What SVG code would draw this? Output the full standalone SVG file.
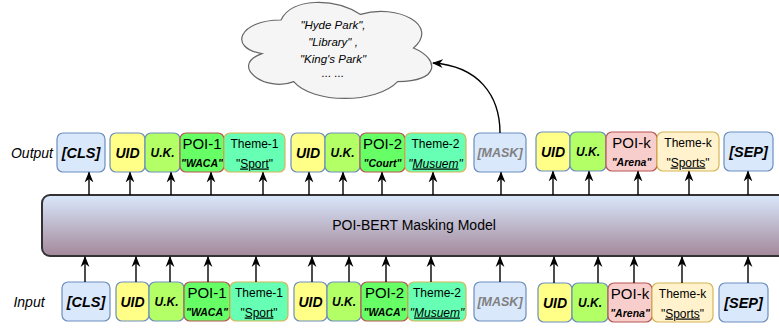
<svg xmlns="http://www.w3.org/2000/svg" width="779" height="331" viewBox="0 0 779 331">
<defs>
<linearGradient id="mg" x1="0" y1="0" x2="0" y2="1">
<stop offset="0" stop-color="#dae8fc"/>
<stop offset="1" stop-color="#a3889a"/>
</linearGradient>
<marker id="arr" viewBox="0 0 10 10" refX="9" refY="5" markerWidth="11" markerHeight="11" orient="auto" markerUnits="userSpaceOnUse">
<path d="M0,1 L10,5 L0,9 L3,5 z" fill="#000"/>
</marker>
<style>
text{font-family:"Liberation Sans",Arial,sans-serif;text-anchor:middle;fill:#000}
.b{fill:#dae8fc;stroke:#6c8ebf;stroke-width:1.2}
.uid{fill:#ffff88;stroke:#6c8ebf;stroke-width:1.2}
.uk{fill:#b3ff66;stroke:#6c8ebf;stroke-width:1.2}
.poi{fill:#66ff66;stroke:#b85450;stroke-width:1.2}
.poik{fill:#f8cecc;stroke:#b85450;stroke-width:1.2}
.th{fill:#66ffb3;stroke:#d6b656;stroke-width:1.2}
.thk{fill:#fff2cc;stroke:#d6b656;stroke-width:1.2}
.bi{font-weight:bold;font-style:italic}
.t14{font-size:14.5px}
.t13{font-size:14px}
.t11{font-size:12px}
.t10{font-size:10.5px}
.tp{font-size:15px}
.t12{font-size:12.5px}
.th1{font-size:12px}
.u{text-decoration:underline}
.gray{fill:#808080}
.lbl{font-style:italic;font-size:14px}
.c{stroke:#000;stroke-width:1.4;fill:none;marker-end:url(#arr)}
</style>
</defs>
<rect width="779" height="331" fill="#fff"/>

<g id="cloud">
<path d="M281,20 C238.6,20 228,48 261.9,53.6 C228,65.9 266.2,92.8 293.7,81.6 C312.8,104 376.4,104 397.6,81.6 C440,81.6 440,59.2 413.5,48 C440,25.6 397.6,3.2 360.5,14.4 C334,-2.4 291.6,-2.4 281,20 Z" fill="#f5f5f5" stroke="#666" stroke-width="1.2"/>
<text x="333" y="29" font-size="11.5" font-style="italic" fill="#333">"Hyde Park",</text>
<text x="333" y="46" font-size="11.5" font-style="italic" fill="#333">"Library" ,</text>
<text x="333" y="63" font-size="11.5" font-style="italic" fill="#333">"King's Park"</text>
<text x="333" y="77" font-size="11.5" font-style="italic" fill="#333">... ...</text>
</g>

<g id="model">
<rect x="42" y="195" width="760" height="61" rx="8" fill="url(#mg)" stroke="#333" stroke-width="2"/>
<text x="414" y="230" font-size="14">POI-BERT Masking Model</text>
</g>

<g id="labels">
<text x="32" y="158" class="lbl">Output</text>
<text x="29" y="307" class="lbl">Input</text>
</g>

<g id="out-cls"><rect class="b" x="57" y="133" width="48" height="39" rx="6"/><text class="bi t14" x="81" y="157.5">[CLS]</text></g>
<g id="out-uid1"><rect class="uid" x="110" y="133" width="35" height="39" rx="6"/><text class="bi t13" x="127.5" y="157.5">UID</text></g>
<g id="out-uk1"><rect class="uk" x="145" y="133" width="35" height="39" rx="6"/><text class="bi t11" x="162.5" y="157">U.K.</text></g>
<g id="out-poi1"><rect class="poi" x="180" y="133" width="44" height="39" rx="6"/><text class="tp" x="202" y="148.5">POI-1</text><text class="bi t10" x="202" y="167">"WACA"</text></g>
<g id="out-theme1"><rect class="th" x="224" y="133" width="61" height="39" rx="6"/><text class="th1" x="254.5" y="148">Theme-1</text><text class="th1" x="254.5" y="167.5">"<tspan class="u">Sport</tspan>"</text></g>

<g id="out-uid2"><rect class="uid" x="291" y="133" width="34" height="39" rx="6"/><text class="bi t13" x="308" y="157.5">UID</text></g>
<g id="out-uk2"><rect class="uk" x="325" y="133" width="35" height="39" rx="6"/><text class="bi t11" x="342.5" y="157">U.K.</text></g>
<g id="out-poi2"><rect class="poi" x="360" y="133" width="45" height="39" rx="6"/><text class="tp" x="382.5" y="148.5">POI-2</text><text class="bi t10" x="382.5" y="167">"Court"</text></g>
<g id="out-theme2"><rect class="th" x="405" y="133" width="61" height="39" rx="6"/><text class="th1" x="435.5" y="148">Theme-2</text><text class="th1" x="435.5" y="167.5" font-style="italic">"<tspan class="u">Musuem</tspan>"</text></g>
<g id="out-mask"><rect class="b" x="474" y="133" width="52" height="39" rx="6"/><text class="bi t12 gray" x="500" y="157">[MASK]</text></g>

<g id="out-uid3"><rect class="uid" x="536" y="132" width="34" height="39" rx="6"/><text class="bi t13" x="553" y="156.5">UID</text></g>
<g id="out-uk3"><rect class="uk" x="570" y="132" width="36" height="39" rx="6"/><text class="bi t11" x="588" y="156">U.K.</text></g>
<g id="out-poik"><rect class="poik" x="606" y="132" width="51" height="39" rx="6"/><text class="tp" x="631.5" y="147.5">POI-k</text><text class="bi t10" x="631.5" y="166">"Arena"</text></g>
<g id="out-themek"><rect class="thk" x="657" y="132" width="62" height="39" rx="6"/><text class="th1" x="688" y="147" fill="#222">Theme-k</text><text class="th1" x="688" y="166.5" fill="#222">"<tspan class="u">Sports</tspan>"</text></g>
<g id="out-sep"><rect class="b" x="724" y="132" width="49" height="39" rx="6"/><text class="bi t14" x="748.5" y="156.5">[SEP]</text></g>

<g id="in-cls"><rect class="b" x="62" y="282" width="48" height="39" rx="6"/><text class="bi t14" x="86" y="306.5">[CLS]</text></g>
<g id="in-uid1"><rect class="uid" x="116" y="282" width="33" height="39" rx="6"/><text class="bi t13" x="132.5" y="306.5">UID</text></g>
<g id="in-uk1"><rect class="uk" x="149" y="282" width="35" height="39" rx="6"/><text class="bi t11" x="166.5" y="306">U.K.</text></g>
<g id="in-poi1"><rect class="poi" x="184" y="282" width="46" height="39" rx="6"/><text class="tp" x="207" y="297.5">POI-1</text><text class="bi t10" x="207" y="316">"WACA"</text></g>
<g id="in-theme1"><rect class="th" x="230" y="282" width="58" height="39" rx="6"/><text class="th1" x="259" y="297">Theme-1</text><text class="th1" x="259" y="316.5">"<tspan class="u">Sport</tspan>"</text></g>

<g id="in-uid2"><rect class="uid" x="294" y="282" width="33" height="39" rx="6"/><text class="bi t13" x="310.5" y="306.5">UID</text></g>
<g id="in-uk2"><rect class="uk" x="327" y="282" width="34" height="39" rx="6"/><text class="bi t11" x="344" y="306">U.K.</text></g>
<g id="in-poi2"><rect class="poi" x="361" y="282" width="47" height="39" rx="6"/><text class="tp" x="384.5" y="297.5">POI-2</text><text class="bi t10" x="384.5" y="316">"WACA"</text></g>
<g id="in-theme2"><rect class="th" x="408" y="282" width="58" height="39" rx="6"/><text class="th1" x="437" y="297">Theme-2</text><text class="th1" x="437" y="316.5" font-style="italic">"<tspan class="u">Musuem</tspan>"</text></g>
<g id="in-mask"><rect class="b" x="474" y="282" width="52" height="39" rx="6"/><text class="bi t12 gray" x="500" y="306">[MASK]</text></g>

<g id="in-uid3"><rect class="uid" x="538" y="283" width="34" height="39" rx="6"/><text class="bi t13" x="555" y="307.5">UID</text></g>
<g id="in-uk3"><rect class="uk" x="572" y="283" width="36" height="39" rx="6"/><text class="bi t11" x="590" y="307">U.K.</text></g>
<g id="in-poik"><rect class="poik" x="608" y="283" width="44" height="39" rx="6"/><text class="tp" x="630" y="298.5">POI-k</text><text class="bi t10" x="630" y="317">"Arena"</text></g>
<g id="in-themek"><rect class="thk" x="652" y="283" width="61" height="39" rx="6"/><text class="th1" x="682.5" y="298" fill="#222">Theme-k</text><text class="th1" x="682.5" y="317.5" fill="#222">"<tspan class="u">Sports</tspan>"</text></g>
<g id="in-sep"><rect class="b" x="719" y="283" width="49" height="39" rx="6"/><text class="bi t14" x="743.5" y="307.5">[SEP]</text></g>

<g id="connectors">
<path class="c" d="M89,195 V172.5"/>
<path class="c" d="M130,195 V172.5"/>
<path class="c" d="M171,195 V172.5"/>
<path class="c" d="M211,195 V172.5"/>
<path class="c" d="M263,195 V172.5"/>
<path class="c" d="M309,195 V172.5"/>
<path class="c" d="M343,195 V172.5"/>
<path class="c" d="M382,195 V172.5"/>
<path class="c" d="M433,195 V172.5"/>
<path class="c" d="M501,195 V172.5"/>
<path class="c" d="M553,195 V171.5"/>
<path class="c" d="M589,195 V171.5"/>
<path class="c" d="M638,195 V171.5"/>
<path class="c" d="M689,195 V171.5"/>
<path class="c" d="M748,195 V171.5"/>

<path class="c" d="M85,282 V257"/>
<path class="c" d="M136,282 V257"/>
<path class="c" d="M170,282 V257"/>
<path class="c" d="M208,282 V257"/>
<path class="c" d="M256,282 V257"/>
<path class="c" d="M312,282 V257"/>
<path class="c" d="M349,282 V257"/>
<path class="c" d="M386,282 V257"/>
<path class="c" d="M431,282 V257"/>
<path class="c" d="M500,282 V257"/>
<path class="c" d="M554,283 V257"/>
<path class="c" d="M598,283 V257"/>
<path class="c" d="M634,283 V257"/>
<path class="c" d="M682,283 V257"/>
<path class="c" d="M748,283 V257"/>

<path class="c" d="M500,133 C500,95 478,66 433,63"/>
</g>
</svg>
